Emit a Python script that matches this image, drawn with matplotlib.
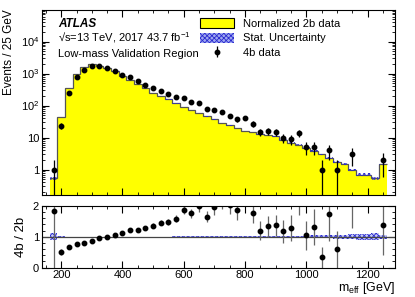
import numpy as np
import matplotlib
matplotlib.use('Agg')
import matplotlib.pyplot as plt
from matplotlib.patches import Patch
from matplotlib.ticker import MultipleLocator, FixedLocator, LogLocator, NullFormatter

plt.rcParams['font.family'] = ['Liberation Sans', 'DejaVu Sans']
plt.rcParams['mathtext.default'] = 'regular'
plt.rcParams['hatch.linewidth'] = 0.6

# bin centres of m_eff [GeV], 25 GeV wide
centers = np.arange(175, 1251, 25)

# 4b data counts
data_4b = np.array([1, 23, 240, 770, 1320, 1700, 1680, 1470, 1230, 930,
                    760, 565, 445, 345, 290, 230, 185, 170, 130, 117,
                    76, 72, 63, 49, 37, 42, 27, 15, 16, 15,
                    10, 9, 14, 5, 5, 1, 4, 1, 0, 3,
                    0, 0, 0, 2], dtype=float)

# normalized 2b data
norm_2b = np.array([0.55, 45, 353, 1000, 1650, 1950, 1780, 1480, 1160, 840,
                    620, 465, 345, 254, 199, 155, 117, 91, 74, 59,
                    46, 37, 29, 24, 20, 16.2, 15.2, 12.6, 12, 11,
                    8.5, 7, 6, 4.8, 3.8, 3.0, 2.3, 1.7, 1.5, 1.0,
                    0.7, 0.7, 0.55, 1.45])

y_ticks = [1, 10, 100, 1000, 10000]
y_tick_labels = ['1', '10', '$10^2$', '$10^3$', '$10^4$']

edges = np.append(centers - 12.5, centers[-1] + 12.5)
# stat. uncertainty of the 2b sample (2b stats ~150x the 4b normalisation)
rel_unc = 1.0 / np.sqrt(norm_2b * 150)
unc = norm_2b * rel_unc

fig = plt.figure(figsize=(4.15, 2.97), dpi=100)
ax = fig.add_axes([0.101, 0.343, 0.851, 0.625])
rax = fig.add_axes([0.101, 0.099, 0.851, 0.208])

blue = '#2b2bd0'
hatch = 'xxxxxxx'

# main panel
ax.stairs(norm_2b, edges, baseline=0.01, fill=True, facecolor='#ffff00',
          edgecolor='none')
ax.stairs(norm_2b, edges, baseline=None, color='#555555', lw=0.9)
ax.fill_between(edges, np.append(norm_2b - unc, norm_2b[-1] - unc[-1]),
                np.append(norm_2b + unc, norm_2b[-1] + unc[-1]), step='post',
                facecolor='none', edgecolor=blue, hatch=hatch, lw=0)
nz = data_4b > 0
ax.errorbar(centers[nz], data_4b[nz], yerr=np.sqrt(data_4b[nz]), fmt='o',
            color='black', ms=3.2, elinewidth=0.9, capsize=0)

ax.set_yscale('log')
ax.set_ylim(0.16, 1e5)
ax.set_xlim(137, 1290)
ax.yaxis.set_major_locator(FixedLocator(y_ticks))
ax.set_yticklabels(y_tick_labels)
ax.yaxis.set_minor_locator(LogLocator(base=10, subs=np.arange(2, 10), numticks=20))
ax.yaxis.set_minor_formatter(NullFormatter())
ax.xaxis.set_major_locator(MultipleLocator(200))
ax.xaxis.set_minor_locator(MultipleLocator(50))
ax.tick_params(labelbottom=False)
ax.set_ylabel('Events / 25 GeV', fontsize=8.5, loc='top')

ax.text(0.045, 0.905, 'ATLAS', transform=ax.transAxes, fontsize=8.5,
        fontweight='bold', style='italic')
ax.text(0.045, 0.825, '\u221as=13 TeV, 2017 43.7 fb$^{-1}$', transform=ax.transAxes,
        fontsize=8)
ax.text(0.045, 0.745, 'Low-mass Validation Region', transform=ax.transAxes,
        fontsize=8)

handles = [Patch(facecolor='#ffff00', edgecolor='black', lw=0.8),
           Patch(facecolor='#9fa8f0', edgecolor=blue, hatch=hatch, lw=0),
           ax.errorbar([], [], yerr=[], fmt='o', color='black', ms=3.2,
                       elinewidth=0.9, capsize=0)]
ax.legend(handles, ['Normalized 2b data', 'Stat. Uncertainty', '4b data'],
          loc='upper left', bbox_to_anchor=(0.43, 0.99), frameon=False,
          fontsize=8, handlelength=3.0, handleheight=1.0, labelspacing=0.35,
          borderaxespad=0.2)

# ratio panel
ratio = np.where(nz, data_4b / norm_2b, np.nan)
ratio_err = np.sqrt(data_4b) / norm_2b
rax.fill_between(edges, np.append(1 - rel_unc, 1 - rel_unc[-1]),
                 np.append(1 + rel_unc, 1 + rel_unc[-1]), step='post',
                 facecolor='#c8ccf5', edgecolor=blue, hatch=hatch, lw=0)
rax.axhline(1, color='#444444', lw=0.9)
rax.errorbar(centers[nz], ratio[nz], yerr=ratio_err[nz], fmt='o',
             color='black', ms=3.2, elinewidth=0.9, capsize=0,
             ecolor='#666666')
rax.set_xlim(137, 1290)
rax.set_ylim(0, 2)
rax.yaxis.set_major_locator(MultipleLocator(1))
rax.yaxis.set_minor_locator(MultipleLocator(0.2))
rax.xaxis.set_major_locator(MultipleLocator(200))
rax.xaxis.set_minor_locator(MultipleLocator(50))
rax.set_ylabel('4b / 2b', fontsize=9.5)
rax.set_xlabel('m$_{eff}$ [GeV]', fontsize=9, loc='right', labelpad=0)

for a in (ax, rax):
    a.tick_params(which='both', direction='in', top=True, right=True,
                  labelsize=8, pad=2)
    a.tick_params(which='major', length=5)
    a.tick_params(which='minor', length=2.5)
fig.align_ylabels([ax, rax])

fig.savefig('out.png', dpi=100)
